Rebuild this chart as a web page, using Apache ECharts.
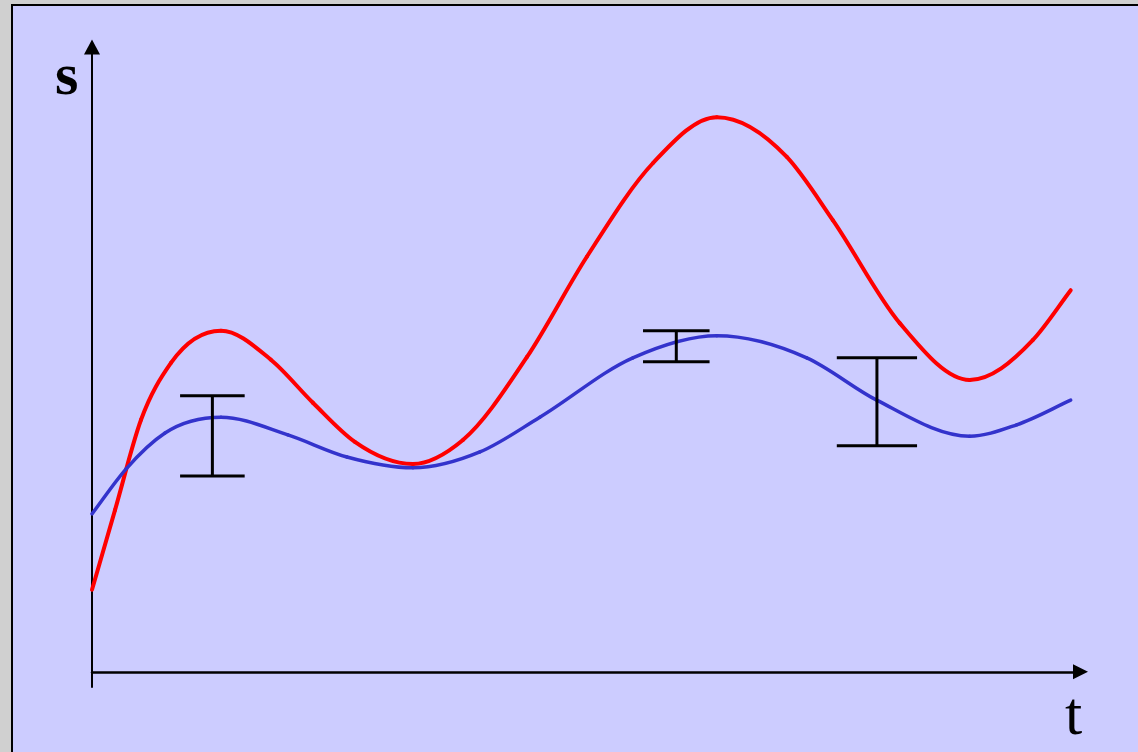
<!DOCTYPE html>
<html>
<head>
<meta charset="utf-8">
<script src="https://cdn.jsdelivr.net/npm/echarts@6/dist/echarts.min.js"></script>
<style>
html,body{margin:0;padding:0;background:#d0d0d0;}
#chart{width:1138px;height:752px;}
</style>
</head>
<body>
<div id="chart"></div>
<script>
// Data (t, s)
const redT = [0,0.235,0.501,0.807,1.318,1.828,2.257,2.686,3.279,3.790,4.443,5.056,5.730,6.384,7.099,7.569,8.253,8.968,9.612,10.0];
const redS = [1.30,2.56,3.99,4.89,5.40,4.94,4.26,3.64,3.29,3.67,4.98,6.57,8.05,8.78,8.15,7.15,5.52,4.62,5.25,6.04];
const blueT = [0,0.347,0.746,1.318,2.002,2.605,3.279,3.963,4.576,5.526,6.384,7.303,8.018,8.968,9.448,10.0];
const blueS = [2.50,3.21,3.78,4.03,3.75,3.40,3.23,3.48,4.03,4.97,5.32,4.97,4.30,3.73,3.91,4.30];
const errT = [1.23, 5.97, 8.02];
const errLow = [3.10, 4.91, 3.58];
const errHigh = [4.37, 5.40, 4.97];
const errCapHalf = [0.33, 0.34, 0.41];
const axisNames = {x: 't', y: 's'};

const zip = (a, b) => a.map((v, i) => [v, b[i]]);
const errData = errT.map((t, i) => [t, errLow[i], errHigh[i], errCapHalf[i]]);

// Smooth curve series: cubic Hermite segments through the data points (mapped with api.coord)
function curveSeries(pts, color, width) {
  return {
    type: 'custom', data: pts, z: 3,
    renderItem: function (params, api) {
      const i = params.dataIndex, n = pts.length;
      if (i >= n - 1) return null;
      const P = pts.map(p => api.coord(p));
      const sec = k => (P[k + 1][1] - P[k][1]) / (P[k + 1][0] - P[k][0]);
      const slope = k => {
        if (k === 0) return sec(0);
        if (k === n - 1) return sec(n - 2);
        const d0 = sec(k - 1), d1 = sec(k);
        if (d0 * d1 <= 0) return 0;
        const h0 = P[k][0] - P[k - 1][0], h1 = P[k + 1][0] - P[k][0];
        return (d0 * h1 + d1 * h0) / (h0 + h1);
      };
      const a = P[i], b = P[i + 1], h = b[0] - a[0];
      const m0 = slope(i), m1 = slope(i + 1);
      return {
        type: 'bezierCurve',
        shape: {
          x1: a[0], y1: a[1], x2: b[0], y2: b[1],
          cpx1: a[0] + h / 3, cpy1: a[1] + m0 * h / 3,
          cpx2: b[0] - h / 3, cpy2: b[1] - m1 * h / 3
        },
        style: {stroke: color, lineWidth: width, fill: null, lineCap: 'round'}
      };
    }
  };
}

const chart = echarts.init(document.getElementById('chart'));
chart.setOption({
  backgroundColor: '#d0d0d0',
  animation: false,
  graphic: [
    {type: 'rect', z: -10, shape: {x: 12, y: 5, width: 1200, height: 800},
     style: {fill: '#ccccff', stroke: '#000', lineWidth: 2}},
    {type: 'text', z: 10, left: 55, top: 48,
     style: {text: axisNames.y, font: 'bold 60px "Liberation Serif", "DejaVu Serif", serif', fill: '#000'}},
    {type: 'text', z: 10, left: 1065, top: 687,
     style: {text: axisNames.x, font: '62px "Liberation Serif", "DejaVu Serif", serif', fill: '#000'}}
  ],
  grid: {left: 92, right: 57.5, top: 47, bottom: 65},
  xAxis: {
    type: 'value', min: 0, max: 10.10,
    axisLine: {show: true, onZero: true, symbol: ['none', 'triangle'], symbolSize: [15, 15],
      lineStyle: {color: '#000', width: 2.5}},
    axisTick: {show: false}, axisLabel: {show: false}, splitLine: {show: false}
  },
  yAxis: {
    type: 'value', min: -0.24, max: 9.89,
    axisLine: {show: true, onZero: false, symbol: ['none', 'triangle'], symbolSize: [16, 15],
      lineStyle: {color: '#000', width: 2}},
    axisTick: {show: false}, axisLabel: {show: false}, splitLine: {show: false}
  },
  series: [
    curveSeries(zip(redT, redS), '#ff0000', 4),
    curveSeries(zip(blueT, blueS), '#3333cc', 3.5),
    {type: 'custom', data: errData, z: 5,
     renderItem: function (params, api) {
       const t = api.value(0), lo = api.value(1), hi = api.value(2), h = api.value(3);
       const pLo = api.coord([t, lo]), pHi = api.coord([t, hi]);
       const cL = api.coord([t - h, lo]), cR = api.coord([t + h, lo]);
       const hL = api.coord([t - h, hi]), hR = api.coord([t + h, hi]);
       const st = {stroke: '#000', lineWidth: 3};
       return {type: 'group', children: [
         {type: 'line', shape: {x1: pLo[0], y1: pLo[1], x2: pHi[0], y2: pHi[1]}, style: st},
         {type: 'line', shape: {x1: cL[0], y1: cL[1], x2: cR[0], y2: cR[1]}, style: st},
         {type: 'line', shape: {x1: hL[0], y1: hL[1], x2: hR[0], y2: hR[1]}, style: st}
       ]};
     }}
  ]
});
</script>
</body>
</html>
